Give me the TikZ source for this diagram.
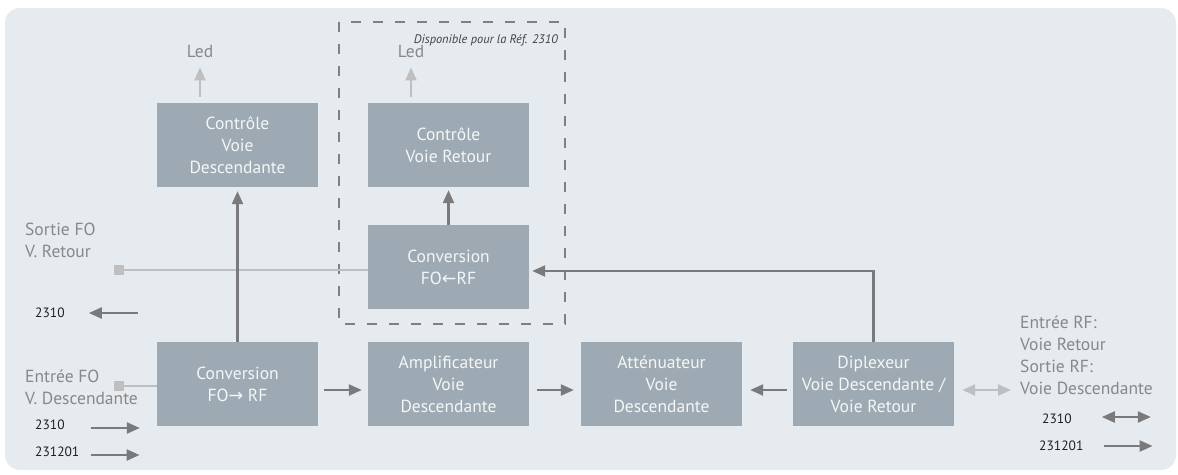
\documentclass[tikz,border=0pt]{standalone}
\usepackage{fontspec}
\setmainfont{PT Sans}
\newfontfamily\arrowfont{DejaVu Sans}
\usetikzlibrary{arrows.meta,positioning}

\definecolor{bgcol}{HTML}{E6EBEF}
\definecolor{boxcol}{HTML}{9DAAB3}
\definecolor{boxtxt}{HTML}{F4F6F7}
\definecolor{lblcol}{HTML}{888888}
\definecolor{numcol}{HTML}{231F20}
\definecolor{arrcol}{HTML}{7A7A7A}
\definecolor{lightcol}{HTML}{BFBFBF}
\definecolor{dashcol}{HTML}{808080}

\begin{document}
\begin{tikzpicture}[x=1pt, y=-1pt,
    bloc/.style={rectangle, fill=boxcol, text=boxtxt, minimum width=161pt, minimum height=84pt, inner sep=0pt, align=center, font=\fontsize{17.5}{22}\selectfont},
    lbl/.style={text=lblcol, align=left, anchor=west, inner sep=0pt, font=\fontsize{17.5}{22}\selectfont},
    num/.style={text=numcol, anchor=west, inner sep=0pt, font=\fontsize{13.5}{15}\selectfont},
    arrow/.style={-{Triangle[length=13pt,width=11pt]}, line width=2.3pt, draw=arrcol},
    dblarrow/.style={arrow, {Triangle[length=13pt,width=11pt]}-{Triangle[length=13pt,width=11pt]}},
    lightarrow/.style={arrow, draw=lightcol},
    fibre/.style={line width=2pt, draw=lightcol},
    plug/.style={rectangle, fill=lightcol, minimum size=10pt, inner sep=0pt}
]
    \useasboundingbox (0,0) rectangle (1178,474);
    \fill[bgcol, rounded corners=15pt] (5,8) rectangle (1176,470);

    % Option 2310
    \draw[dashcol, line width=2.4pt, dash pattern=on 10pt off 12pt] (339,22) rectangle (565,324);
    \node[anchor=east, inner sep=0pt, text=numcol!85, font=\fontsize{12.4}{14}\selectfont\itshape] (dispo) at (558,40) {Disponible pour la Réf. 2310};

    % Blocs
    \node[bloc] (cvd) at (237.5,145) {Contrôle\\Voie\\Descendante};
    \node[bloc] (cvr) at (448.5,145) {Contrôle\\Voie Retour};
    \node[bloc] (cfr) at (448.5,267) {Conversion\\FO{\arrowfont ←}RF};
    \node[bloc] (cfo) at (237.5,384) {Conversion\\FO{\arrowfont →} RF};
    \node[bloc] (amp) at (448.5,384) {Amplificateur\\Voie\\Descendante};
    \node[bloc] (att) at (661.5,384) {Atténuateur\\Voie\\Descendante};
    \node[bloc] (dip) at (873.5,384) {Diplexeur\\Voie Descendante /\\Voie Retour};

    % Led
    \node[lbl, anchor=center] (led1) at (200,51) {Led};
    \node[lbl, anchor=center] (led2) at (411,51) {Led};
    \draw[lightarrow, shorten <=6pt, shorten >=10pt] (cvd.north -| led1) -- (led1.south);
    \draw[lightarrow, shorten <=6pt, shorten >=10pt] (cvr.north -| led2) -- (led2.south);

    % Entrees / sorties
    \node[lbl] (sfo) at (25,240) {Sortie FO\\V. Retour};
    \node[lbl] (efo) at (25,387) {Entrée FO\\V. Descendante};
    \node[lbl] (rfio) at (1020,355) {Entrée RF:\\Voie Retour\\Sortie RF:\\Voie Descendante};
    \node[plug] (plug1) at (119,270) {};
    \node[plug] (plug2) at (119,386) {};
    \coordinate (rfin) at (1011,390);

    \draw[fibre] (plug1) -- (plug1 -| cfr.west);
    \draw[fibre] (plug2) -- (plug2 -| cfo.west);

    % Liaisons
    \draw[arrow, shorten >=4pt] (cfo) -- (cvd);
    \draw[arrow, shorten >=3pt] (cfr) -- (cvr);
    \draw[arrow, shorten >=3pt] (dip.north) |- ([yshift=-4pt]cfr.east);
    \draw[arrow, shorten <=6pt, shorten >=6pt] ([yshift=-6pt]cfo.east) -- ([yshift=-6pt]amp.west);
    \draw[arrow, shorten <=8pt, shorten >=7pt] ([yshift=-6pt]amp.east) -- ([yshift=-6pt]att.west);
    \draw[arrow, shorten <=6pt, shorten >=8pt] ([yshift=-6pt]dip.west) -- ([yshift=-6pt]att.east);
    \draw[dblarrow, draw=lightcol, shorten <=8pt] ([yshift=-6pt]dip.east) -- (rfin);

    % Legende
    \node[num] (l1) at (35,313) {2310};
    \node[num] (l2) at (35,425) {2310};
    \node[num] (l3) at (35,452) {231201};
    \node[num] (r1) at (1042,419) {2310};
    \node[num] (r2) at (1039,446) {231201};
    \draw[arrow] ([xshift=73pt]l1.east) -- ([xshift=24pt]l1.east);
    \draw[arrow] ([xshift=26pt,yshift=-3pt]l2.east) -- ([xshift=75pt,yshift=-3pt]l2.east);
    \draw[arrow] ([xshift=11pt,yshift=-3pt]l3.east) -- ([xshift=60pt,yshift=-3pt]l3.east);
    \draw[dblarrow] ([xshift=30pt,yshift=2pt]r1.east) -- ([xshift=79pt,yshift=2pt]r1.east);
    \draw[arrow] ([xshift=20pt]r2.east) -- ([xshift=69pt]r2.east);
\end{tikzpicture}
\end{document}
